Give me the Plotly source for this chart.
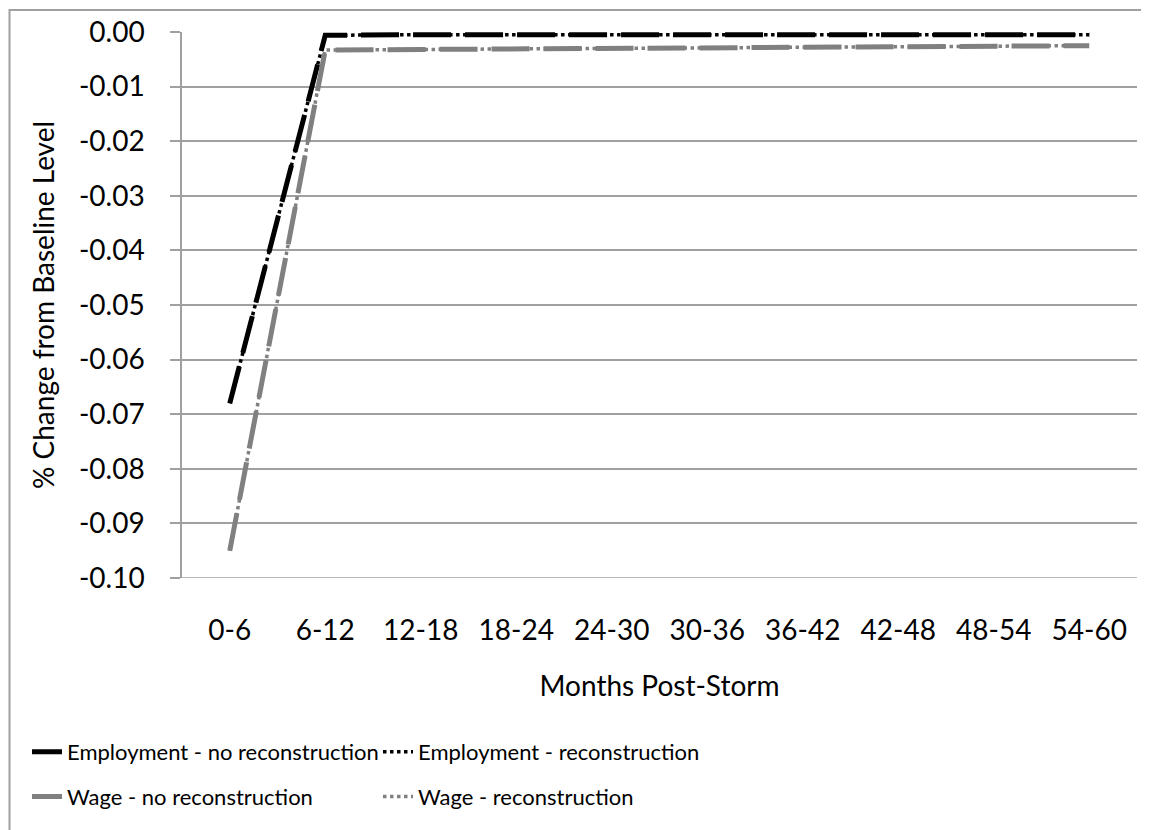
import plotly.graph_objects as go

categories = ["0-6", "6-12", "12-18", "18-24", "24-30", "30-36", "36-42", "42-48", "48-54", "54-60"]
emp_no_recon = [-0.068, -0.0006, -0.0005, -0.0005, -0.0005, -0.0005, -0.0005, -0.0005, -0.0005, -0.0005]
emp_recon = [-0.068, -0.0006, -0.0005, -0.0005, -0.0005, -0.0005, -0.0005, -0.0005, -0.0005, -0.0005]
wage_no_recon = [-0.095, -0.0033, -0.0032, -0.0031, -0.0030, -0.0029, -0.0028, -0.0027, -0.0026, -0.0025]
wage_recon = [-0.095, -0.0033, -0.0032, -0.0031, -0.0030, -0.0029, -0.0028, -0.0027, -0.0026, -0.0025]
y_ticks = [0.0, -0.01, -0.02, -0.03, -0.04, -0.05, -0.06, -0.07, -0.08, -0.09, -0.10]
y_ticktext = ["0.00", "-0.01", "-0.02", "-0.03", "-0.04", "-0.05", "-0.06", "-0.07", "-0.08", "-0.09", "-0.10"]

FONT = "Lato, Liberation Sans, sans-serif"
BLACK = "#000000"
GRAY = "#808080"
AXIS_GRAY = "#a0a0a0"
FS = 28
LFS = 22

# the page body adds an 8px offset; work in page pixels and convert
OFF = 8
W, H = 1149 - OFF, 830 - OFF
PL, PR, PT, PB = 182, 1137, 31.5, 578   # plot area in page pixels
L = PL - OFF
T = PT - OFF
R = W - (PR - OFF)
B = H - (PB - OFF)
pw = W - L - R
ph = H - T - B


def px_x(p):
    return (p - OFF - L) / pw


def px_y(p):
    return (H - B - (p - OFF)) / ph


fig = go.Figure()
fig.add_trace(go.Scatter(x=categories, y=emp_no_recon, mode="lines", name="Employment - no reconstruction",
                         line=dict(color=BLACK, width=5, dash="38px,14px"), legend="legend"))
fig.add_trace(go.Scatter(x=categories, y=emp_recon, mode="lines", name="Employment - reconstruction",
                         line=dict(color=BLACK, width=3.5, dash="dot"), legend="legend2"))
fig.add_trace(go.Scatter(x=categories, y=wage_no_recon, mode="lines", name="Wage - no reconstruction",
                         line=dict(color=GRAY, width=5, dash="38px,14px"), legend="legend3"))
fig.add_trace(go.Scatter(x=categories, y=wage_recon, mode="lines", name="Wage - reconstruction",
                         line=dict(color=GRAY, width=3.5, dash="dot"), legend="legend4"))

legend_common = dict(orientation="h", xanchor="left", yanchor="middle", bgcolor="rgba(0,0,0,0)",
                     font=dict(family=FONT, size=LFS, color="#000"), itemwidth=30)
fig.update_layout(
    legend=dict(x=px_x(27), y=px_y(752), **legend_common),
    legend2=dict(x=px_x(378), y=px_y(752), **legend_common),
    legend3=dict(x=px_x(27), y=px_y(797), **legend_common),
    legend4=dict(x=px_x(378), y=px_y(797), **legend_common),
)

n = len(categories)
boundaries = [i - 0.5 for i in range(n + 1)]

fig.update_layout(
    width=W, height=H,
    margin=dict(l=L, r=R, t=T, b=B, autoexpand=False),
    paper_bgcolor="white", plot_bgcolor="white",
    font=dict(family=FONT, size=FS, color="#000"),
    showlegend=True,
    xaxis=dict(type="category", categoryorder="array", categoryarray=categories,
               range=[-0.5, n - 0.5], showgrid=False, showline=False, ticks="",
               zeroline=False, tickfont=dict(size=FS), ticklabelstandoff=33,
               title=dict(text="Months Post-Storm", font=dict(size=FS), standoff=31)),
    xaxis2=dict(overlaying="x", anchor="y", side="top", range=[-0.5, n - 0.5],
                tickvals=boundaries, ticks="inside", ticklen=11, tickcolor=AXIS_GRAY, tickwidth=1.5,
                showticklabels=False, showgrid=False, showline=True, linecolor=AXIS_GRAY, linewidth=1.5,
                zeroline=False),
    yaxis=dict(range=[-0.1, 0.0], tickvals=y_ticks, ticktext=y_ticktext, showgrid=True,
               gridcolor=AXIS_GRAY, gridwidth=1.5, zeroline=False, showline=True,
               linecolor=AXIS_GRAY, linewidth=1.5, ticks="outside", ticklen=10,
               tickcolor=AXIS_GRAY, tickwidth=1.5, ticklabelstandoff=20,
               tickfont=dict(size=FS),
               title=dict(text="% Change from Baseline Level", font=dict(size=FS), standoff=16)),
)

# bottom gridline at -0.10 and chart border
fig.add_shape(type="line", xref="paper", yref="y", x0=0, x1=1, y0=-0.1, y1=-0.1,
              line=dict(color=AXIS_GRAY, width=1.5), layer="below")
fig.add_shape(type="rect", xref="paper", yref="paper", x0=px_x(9.5), x1=px_x(1160),
              y0=px_y(840), y1=px_y(9.5), line=dict(color=AXIS_GRAY, width=2), layer="below")

fig.write_html("out.html")
